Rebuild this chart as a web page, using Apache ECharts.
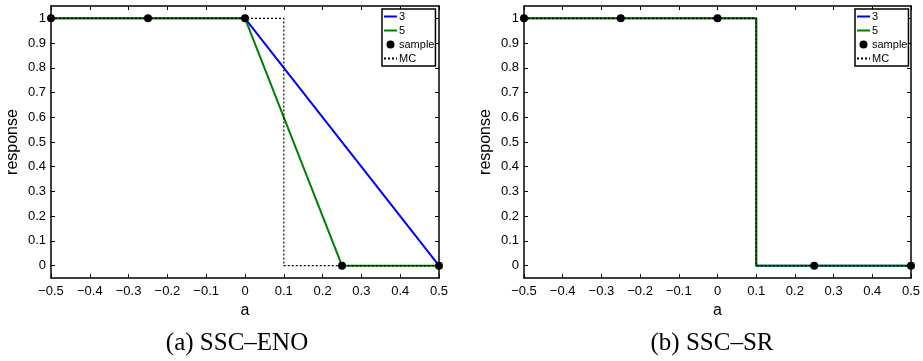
<!DOCTYPE html>
<html>
<head>
<meta charset="utf-8">
<script src="https://cdn.jsdelivr.net/npm/echarts@6/dist/echarts.min.js"></script>
<style>
  html, body { margin: 0; padding: 0; background: #fff; }
  #main { width: 923px; height: 361px; }
</style>
</head>
<body>
<div id="main"></div>
<script>
// tick labels
const aTicks = [-0.5, -0.4, -0.3, -0.2, -0.1, 0, 0.1, 0.2, 0.3, 0.4, 0.5]
const respTicks = [0, 0.1, 0.2, 0.3, 0.4, 0.5, 0.6, 0.7, 0.8, 0.9, 1]

// sample points (same in both panels)
const sampleA = [-0.5, -0.25, 0, 0.25, 0.5]
const sampleResp = [1, 1, 1, 0, 0]

// (a) SSC-ENO
const enoA3 = [-0.5, -0.25, 0, 0.5]
const enoResp3 = [1, 1, 1, 0]
const enoA5 = [-0.5, -0.25, 0, 0.25, 0.5]
const enoResp5 = [1, 1, 1, 0, 0]

// (b) SSC-SR
const srA3 = [-0.5, 0.1, 0.1, 0.5]
const srResp3 = [1, 1, 0, 0]
const srA5 = [-0.5, 0.1, 0.1, 0.5]
const srResp5 = [1, 1, 0, 0]

// Monte Carlo reference
const mcA = [-0.5, 0.1, 0.1, 0.5]
const mcResp = [1, 1, 0, 0]

const captions = ['(a) SSC\u2013ENO', '(b) SSC\u2013SR']

const pairs = (xs, ys) => xs.map((x, i) => [x, ys[i]])
const fmt = v => String(+(+v).toFixed(2)).replace('-', '\u2212')

const font = 'Liberation Sans'
const frame = { color: '#000', width: 1.5 }
const noMarker = { color: 'rgba(0,0,0,0)', borderWidth: 0, opacity: 0 }

const grids = [
    { left: 51, top: 6, width: 388, height: 272 },
    { left: 524, top: 6, width: 387, height: 272 }
]

function xAxes(gi) {
    const base = {
        gridIndex: gi, type: 'value', min: -0.5, max: 0.5,
        axisLine: { onZero: false, lineStyle: frame },
        axisTick: { inside: true, length: 4, customValues: aTicks, lineStyle: { color: '#000', width: 1 } },
        splitLine: { show: false }
    }
    return [
        Object.assign({}, base, {
            position: 'bottom',
            axisLabel: { customValues: aTicks, formatter: fmt, color: '#000', fontSize: 13, fontFamily: font, margin: 7 },
            name: 'a', nameLocation: 'middle', nameGap: 23,
            nameTextStyle: { color: '#000', fontSize: 16, fontFamily: font }
        }),
        Object.assign({}, base, { position: 'top', axisLabel: { show: false } })
    ]
}

function yAxes(gi) {
    const base = {
        gridIndex: gi, type: 'value', min: -0.05, max: 1.05,
        axisLine: { onZero: false, lineStyle: frame },
        axisTick: { inside: true, length: 4, customValues: respTicks, lineStyle: { color: '#000', width: 1 } },
        splitLine: { show: false }
    }
    return [
        Object.assign({}, base, {
            position: 'left',
            axisLabel: { customValues: respTicks, formatter: fmt, color: '#000', fontSize: 13, fontFamily: font, margin: 5 },
            name: 'response', nameLocation: 'middle', nameGap: 30,
            nameTextStyle: { color: '#000', fontSize: 16, fontFamily: font }
        }),
        Object.assign({}, base, { position: 'right', axisLabel: { show: false } })
    ]
}

function lineSeries(name, data, color, gi, dotted) {
    return {
        name: name, type: 'line', data: data,
        xAxisIndex: gi * 2, yAxisIndex: gi * 2,
        symbol: 'none', animation: false,
        lineStyle: dotted ? { color: '#000', width: 1.2, type: [2, 2] } : { color: color, width: 2 },
        itemStyle: { color: dotted ? '#000' : color },
        z: dotted ? 4 : 3
    }
}

function sampleSeries(gi) {
    return {
        name: 'sample', type: 'scatter', data: pairs(sampleA, sampleResp),
        xAxisIndex: gi * 2, yAxisIndex: gi * 2,
        symbol: 'circle', symbolSize: 8, animation: false,
        itemStyle: { color: '#000', opacity: 1 }, z: 5
    }
}

function legend(left) {
    return {
        data: [
            { name: '3', itemStyle: noMarker },
            { name: '5', itemStyle: noMarker },
            { name: 'sample', itemStyle: { color: '#000', opacity: 1 } },
            { name: 'MC', itemStyle: noMarker }
        ],
        orient: 'vertical', left: left, top: 9,
        itemWidth: 13, itemHeight: 8, itemGap: 3,
        padding: [2, 1, 2, 1],
        borderColor: '#000', borderWidth: 1.5, backgroundColor: '#fff',
        textStyle: { color: '#000', fontSize: 11, fontFamily: font, padding: [0, 0, 0, -3] },
        selectedMode: false
    }
}

const chart = echarts.init(document.getElementById('main'))

const options = {
    backgroundColor: '#fff',
    animation: false,
    grid: grids.map(g => Object.assign({ outerBoundsMode: 'none' }, g)),
    xAxis: [...xAxes(0), ...xAxes(1)],
    yAxis: [...yAxes(0), ...yAxes(1)],
    legend: [legend(382), legend(855)],
    series: [
        lineSeries('3', pairs(enoA3, enoResp3), '#0000ff', 0),
        lineSeries('5', pairs(enoA5, enoResp5), '#008000', 0),
        lineSeries('MC', pairs(mcA, mcResp), '#000', 0, true),
        sampleSeries(0),
        lineSeries('3', pairs(srA3, srResp3), '#0000ff', 1),
        lineSeries('5', pairs(srA5, srResp5), '#008000', 1),
        lineSeries('MC', pairs(mcA, mcResp), '#000', 1, true),
        sampleSeries(1)
    ],
    graphic: [
        {
            type: 'text', x: 237, y: 343,
            style: { text: captions[0], font: '25px "Liberation Serif"', fill: '#000', align: 'center', verticalAlign: 'middle' }
        },
        {
            type: 'text', x: 712, y: 343,
            style: { text: captions[1], font: '25px "Liberation Serif"', fill: '#000', align: 'center', verticalAlign: 'middle' }
        }
    ]
}

chart.setOption(options)
</script>
</body>
</html>
